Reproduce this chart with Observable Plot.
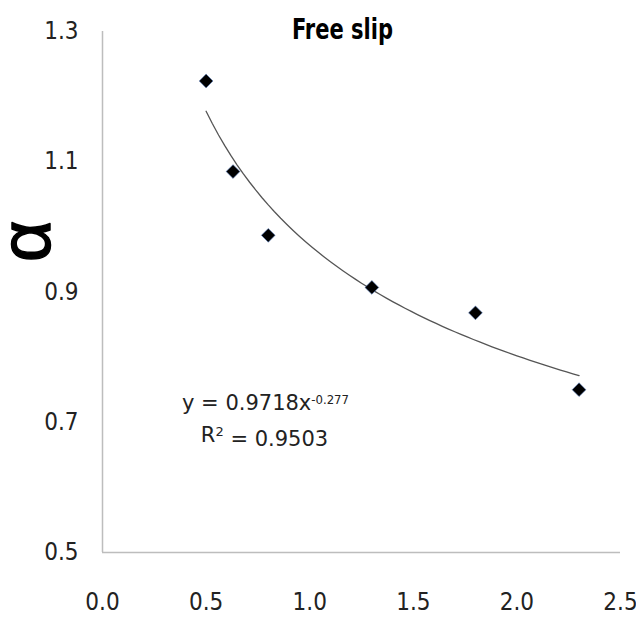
<!DOCTYPE html>
<html>
<head>
<meta charset="utf-8">
<script src="https://cdn.jsdelivr.net/npm/d3@7"></script>
<script src="https://cdn.jsdelivr.net/npm/@observablehq/plot@0.6"></script>
<style>
  html, body { margin: 0; padding: 0; background: #fff; }
  #chart { width: 636px; height: 617px; }
</style>
</head>
<body>
<div id="chart"></div>
<script>
// ---- data ----
const xValues = [0.5, 0.63, 0.8, 1.3, 1.8, 2.3];
const alphaValues = [1.224, 1.085, 0.987, 0.907, 0.868, 0.750];
const xTicks = [0.0, 0.5, 1.0, 1.5, 2.0, 2.5];
const yTicks = [0.5, 0.7, 0.9, 1.1, 1.3];
const titleText = ["Free slip"];
const yLabel = ["α"];
const fitCoef = 0.9718;
const fitExp = -0.277;
const fitR2 = 0.9503;

const points = xValues.map((x, i) => ({x, y: alphaValues[i]}));
// trendline from the fitted power equation shown on the chart
const xMin = d3.min(xValues), xMax = d3.max(xValues);
const trend = d3.range(0, 61).map(i => {
  const x = xMin + (xMax - xMin) * i / 60;
  return {x, y: fitCoef * Math.pow(x, fitExp)};
});

const FONT = "'DejaVu Sans Condensed', 'Liberation Sans', sans-serif";
const EQFONT = "'DejaVu Sans', sans-serif";
const fmt = d3.format(".1f");

const svg = Plot.plot({
  width: 636,
  height: 617,
  marginLeft: 102,
  marginRight: 16,
  marginTop: 31,
  marginBottom: 65,
  style: {fontFamily: FONT, background: "#fff", color: "#222"},
  x: {domain: [0, 2.5]},
  y: {domain: [0.5, 1.3]},
  marks: [
    Plot.axisX({ticks: xTicks, tickFormat: fmt, tickSize: 0, tickPadding: 40, fontSize: 24, label: null}),
    Plot.axisY({ticks: yTicks, tickFormat: fmt, tickSize: 0, tickPadding: 24, fontSize: 24, label: null}),
    Plot.ruleX([0], {stroke: "#bdbdbd", strokeWidth: 1.5}),
    Plot.ruleY([0.5], {stroke: "#bdbdbd", strokeWidth: 1.5}),
    Plot.line(trend, {x: "x", y: "y", stroke: "#555", strokeWidth: 1.3}),
    Plot.dot(points, {x: "x", y: "y", symbol: "diamond2", r: 6.2, fill: "#000", stroke: "#5b7fbf", strokeWidth: 0.6}),
    Plot.text(titleText, {frameAnchor: "top", dx: -19, dy: 7, fontSize: 28, fontWeight: "bold", fill: "#000", lineAnchor: "bottom", className: "ttl"}),
    Plot.text(yLabel, {frameAnchor: "left", rotate: -90, dx: -76, dy: -30, fontSize: 72, fill: "#000", stroke: "#000", strokeWidth: 1.5, fontFamily: "'Liberation Sans', sans-serif"}),
    Plot.text(["eq1"], {frameAnchor: "top-left", dx: 163, dy: 364, fontSize: 21, fill: "#222", textAnchor: "middle", fontFamily: EQFONT, className: "eq1"}),
    Plot.text(["eq2"], {frameAnchor: "top-left", dx: 162, dy: 396, fontSize: 21, fill: "#222", textAnchor: "middle", fontFamily: EQFONT, className: "eq2"})
  ]
});

document.getElementById("chart").appendChild(svg);

// title width like the reference's narrow bold face
d3.select(svg).selectAll(".ttl text").attr("textLength", 101).attr("lengthAdjust", "spacingAndGlyphs");

// superscripts for the equation labels
d3.select(svg).selectAll(".eq1 text").each(function() {
  const t = d3.select(this);
  t.text("y = " + fitCoef + "x");
  t.append("tspan").attr("dy", "-0.5em").attr("font-size", "13px")
    .attr("font-family", "'DejaVu Sans Condensed', sans-serif").text(String(fitExp));
});
d3.select(svg).selectAll(".eq2 text").each(function() {
  const t = d3.select(this);
  t.text("R");
  t.append("tspan").attr("dy", "-0.5em").attr("font-size", "13px").text("2");
  t.append("tspan").attr("dy", "0.5em").text(" = " + fitR2);
});
</script>
</body>
</html>
